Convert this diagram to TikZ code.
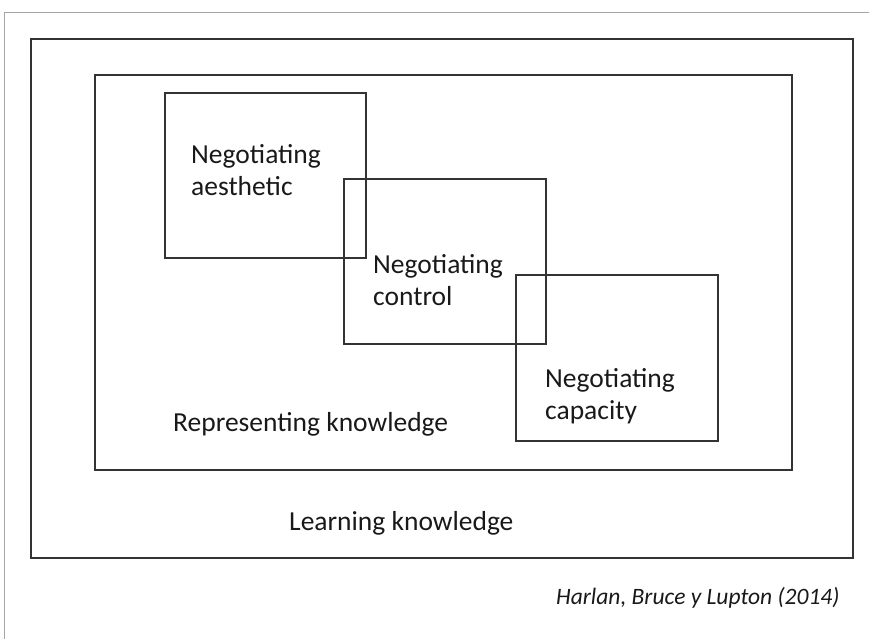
\documentclass[tikz,border=0pt]{standalone}
\usepackage{fontspec}
\setmainfont{Carlito}
\begin{document}
\begin{tikzpicture}[x=1pt,y=-1pt,
  frame/.style={draw=black!80,line width=1.4pt},
  lbl/.style={font=\fontsize{27.5}{32}\selectfont,anchor=west,align=left,inner sep=0pt,text=black!90}]
\useasboundingbox (0,0) rectangle (869,639);
\draw[black!35,line width=0.8pt] (4,639) -- (4,12) -- (869,12);
\draw[frame] (31,39) rectangle (853,558);
\draw[frame] (95,75) rectangle (792,470);
\draw[frame] (165,93) rectangle (366,258);
\draw[frame] (344,179) rectangle (546,344);
\draw[frame] (516,275) rectangle (718,441);
\node[lbl] (aes) at (191,170) {Negotiating\\aesthetic};
\node[lbl] (con) at (373,280) {Negotiating\\control};
\node[lbl] (cap) at (545,396) {Negotiating\\capacity};
\node[lbl] (rep) at (173,424) {Representing knowledge};
\node[lbl] (lea) at (289,523) {Learning knowledge};
\node[lbl,font=\fontsize{23.5}{28}\selectfont\itshape] (cit) at (556,598) {Harlan, Bruce y Lupton (2014)};
\end{tikzpicture}
\end{document}
